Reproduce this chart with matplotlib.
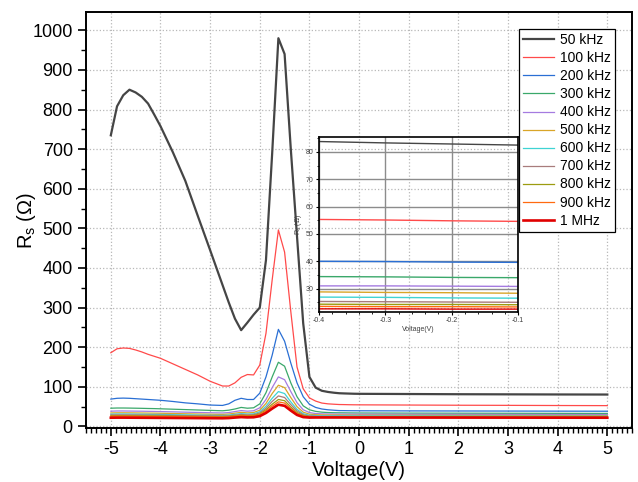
import matplotlib
matplotlib.use("Agg")
import matplotlib.pyplot as plt
from matplotlib.ticker import MultipleLocator

plt.rcParams['font.family'] = ['Liberation Sans', 'DejaVu Sans']
plt.rcParams['mathtext.fontset'] = 'custom'
plt.rcParams['mathtext.rm'] = 'Liberation Sans'
plt.rcParams['mathtext.it'] = 'Liberation Sans:italic'
plt.rcParams['axes.unicode_minus'] = False

voltage = [-5, -4.875, -4.75, -4.625, -4.5, -4.375, -4.25, -4.125, -4.0, -3.75,
           -3.5, -3.25, -3.0, -2.75, -2.625, -2.5, -2.375, -2.25, -2.125, -2.0,
           -1.875, -1.75, -1.625, -1.5, -1.375, -1.25, -1.125, -1.0, -0.875, -0.75,
           -0.625, -0.5, -0.4, -0.3, -0.2, -0.1, 0, 1, 2, 3, 4, 5]

rs_50k = [735, 808, 836, 850, 843, 832, 815, 787, 758, 692, 620, 532, 445, 357, 313, 272,
          243, 262, 282, 300, 420, 690, 980, 940, 700, 480, 260, 125, 98, 90, 87, 85,
          83.8, 83.3, 82.9, 82.5, 82.3, 81.8, 81.3, 81.0, 80.7, 80.5]
rs_100k = [186, 196, 198, 197, 193, 188, 182, 177, 172, 158, 144, 130, 114, 102, 102, 110,
           124, 131, 130, 155, 235, 370, 496, 440, 290, 150, 95, 72, 64, 59, 57, 56,
           55.3, 55.1, 54.8, 54.6, 54.5, 54.0, 53.5, 53.2, 52.8, 52.5]
rs_200k = [69, 71, 71.5, 71, 70, 69, 68, 67, 66, 63, 59.5, 57, 54, 53, 57, 66, 71, 68, 68,
           84, 125, 180, 245, 215, 160, 110, 75, 56, 48, 44, 42, 40.8, 40.0, 39.9, 39.7,
           39.6, 39.5, 39.2, 39.0, 38.8, 38.6, 38.4]
rs_300k = [46, 46.5, 46.5, 46.3, 46, 45.7, 45.3, 45, 44.5, 43.5, 42.5, 41.5, 40.5, 39.5, 41,
           44, 48, 46, 47, 57, 85, 125, 162, 152, 110, 75, 52, 42, 38, 36, 35, 34.6, 34.4,
           34.3, 34.1, 34.0, 33.9, 33.6, 33.4, 33.2, 33.0, 32.8]
rs_400k = [38.5, 39, 39, 38.8, 38.6, 38.4, 38.1, 37.8, 37.5, 36.8, 36, 35.3, 34.6, 34, 35,
           37.5, 40, 38.5, 39.5, 47, 68, 98, 125, 118, 88, 60, 42, 35, 32.5, 31.8, 31.4,
           31.2, 31.0, 31.0, 30.9, 30.8, 30.8, 30.6, 30.4, 30.2, 30.1, 30.0]
rs_500k = [34, 34.4, 34.4, 34.3, 34.1, 33.9, 33.7, 33.5, 33.2, 32.6, 32, 31.4, 30.8, 30.3,
           31.3, 33.5, 35.5, 34.2, 35, 41, 58, 83, 104, 98, 73, 50, 36, 31, 29.6, 29.1,
           28.9, 28.8, 28.8, 28.6, 28.5, 28.3, 28.3, 28.1, 27.9, 27.7, 27.6, 27.5]
rs_600k = [31, 31.3, 31.3, 31.2, 31, 30.8, 30.6, 30.4, 30.2, 29.7, 29.2, 28.7, 28.2, 27.8,
           28.6, 30.5, 32.3, 31.2, 31.8, 37, 51, 71, 88, 83, 62, 43, 32, 28.3, 27.3, 27.0,
           26.9, 26.9, 26.9, 26.8, 26.6, 26.5, 26.5, 26.3, 26.1, 26.0, 25.9, 25.8]
rs_700k = [29, 29.2, 29.2, 29.1, 29, 28.8, 28.6, 28.4, 28.2, 27.8, 27.4, 27, 26.6, 26.2,
           26.9, 28.6, 30.2, 29.2, 29.7, 34, 46, 63, 77, 73, 55, 39, 29.5, 26.5, 25.7,
           25.4, 25.3, 25.3, 25.3, 25.2, 25.1, 25.0, 25.0, 24.8, 24.7, 24.6, 24.5, 24.4]
rs_800k = [27, 27.2, 27.2, 27.1, 27, 26.8, 26.6, 26.5, 26.3, 26, 25.6, 25.3, 25, 24.7,
           25.3, 26.8, 28.2, 27.3, 27.8, 31.5, 42, 56, 68, 65, 49, 35, 27.5, 25, 24.5,
           24.3, 24.3, 24.3, 24.3, 24.2, 24.2, 24.1, 24.1, 24.0, 23.9, 23.8, 23.7, 23.6]
rs_900k = [25.5, 25.7, 25.7, 25.6, 25.5, 25.3, 25.2, 25, 24.9, 24.6, 24.3, 24, 23.7, 23.5,
           24, 25.4, 26.6, 25.8, 26.2, 29.5, 39, 51, 62, 59, 45, 32.5, 26, 24, 23.6, 23.5,
           23.5, 23.5, 23.5, 23.4, 23.4, 23.3, 23.3, 23.2, 23.1, 23.0, 23.0, 22.9]
rs_1M = [22, 22.2, 22.2, 22.1, 22, 21.9, 21.8, 21.7, 21.6, 21.4, 21.2, 21, 20.8, 20.6,
         21.1, 22.4, 23.5, 22.8, 23.1, 26, 34, 45, 55, 52, 40, 29, 23.5, 22.4, 22.6,
         22.6, 22.6, 22.6, 22.6, 22.6, 22.5, 22.5, 22.5, 22.4, 22.3, 22.2, 22.1, 22.0]

labels = ['50 kHz', '100 kHz', '200 kHz', '300 kHz', '400 kHz', '500 kHz',
          '600 kHz', '700 kHz', '800 kHz', '900 kHz', '1 MHz']
series = [rs_50k, rs_100k, rs_200k, rs_300k, rs_400k, rs_500k,
          rs_600k, rs_700k, rs_800k, rs_900k, rs_1M]
colors = ['#454545', '#ff4a4a', '#2a6fd4', '#3aa86a', '#a57be0', '#d9a528',
          '#3fd3d3', '#a87c7c', '#9c9c10', '#ff6a10', '#e00000']
widths = [1.6, 0.9, 0.9, 0.9, 0.9, 0.9, 0.9, 0.9, 0.9, 0.9, 1.9]

fig = plt.figure(figsize=(6.38, 4.82), dpi=100)
ax = fig.add_axes([0.1348, 0.112, 0.856, 0.863])

for y, c, lw, lab in zip(series, colors, widths, labels):
    ax.plot(voltage, y, color=c, lw=lw, label=lab)

ax.set_xlim(-5.5, 5.5)
ax.set_ylim(-4, 1046)
ax.xaxis.set_major_locator(MultipleLocator(1))
ax.xaxis.set_minor_locator(MultipleLocator(0.1))
ax.yaxis.set_major_locator(MultipleLocator(100))
ax.yaxis.set_minor_locator(MultipleLocator(50))
ax.tick_params(which='major', direction='out', length=6, width=1.2, labelsize=13)
ax.tick_params(which='minor', direction='out', length=3.5, width=1.0)
ax.grid(True, which='major', linestyle=':', color='#b8b8b8', lw=0.9)
for s in ax.spines.values():
    s.set_linewidth(1.4)
ax.set_xlabel('Voltage(V)', fontsize=14.5, labelpad=2)
ax.set_ylabel('R$_\\mathrm{s}$ (Ω)', fontsize=14.5)
ax.yaxis.set_label_coords(-0.088, 0.5)

leg = ax.legend(loc='upper left', bbox_to_anchor=(0.793, 0.959), fontsize=10,
                frameon=True, fancybox=False, edgecolor='black', framealpha=1,
                handlelength=2.2, handletextpad=0.45, borderpad=0.3, labelspacing=0.29,
                borderaxespad=0)
leg.get_frame().set_linewidth(0.9)

# inset
ins = fig.add_axes([0.5, 0.353, 0.312, 0.363])
ins.set_facecolor('none')
for y, c, lab in zip(series, colors, labels):
    ins.plot(voltage, y, color=c, lw=1.0)
ins.set_xlim(-0.4, -0.1)
ins.set_ylim(21.5, 85.5)
ins.xaxis.set_minor_locator(MultipleLocator(0.02))
ins.yaxis.set_minor_locator(MultipleLocator(5))
ins.set_xticks([-0.4, -0.3, -0.2, -0.1])
ins.set_xticklabels(['-0.4', '-0.3', '-0.2', '-0.1'])
ins.set_yticks([30, 40, 50, 60, 70, 80])
ins.tick_params(which='major', direction='out', length=2.5, width=0.8, labelsize=5,
                labelcolor='#404040', pad=1.5)
ins.tick_params(which='minor', direction='out', length=1.5, width=0.6)
ins.grid(True, which='major', linestyle='-', color='#8c8c8c', lw=1.0)
ins.set_axisbelow(True)
for s in ins.spines.values():
    s.set_linewidth(1.2)
ins.set_xlabel('Voltage(V)', fontsize=5, color='#404040', labelpad=1)
ins.set_ylabel('R$_\\mathrm{s}$ (Ω)', fontsize=5, color='#404040', labelpad=1)

fig.savefig('out.png', dpi=100)
